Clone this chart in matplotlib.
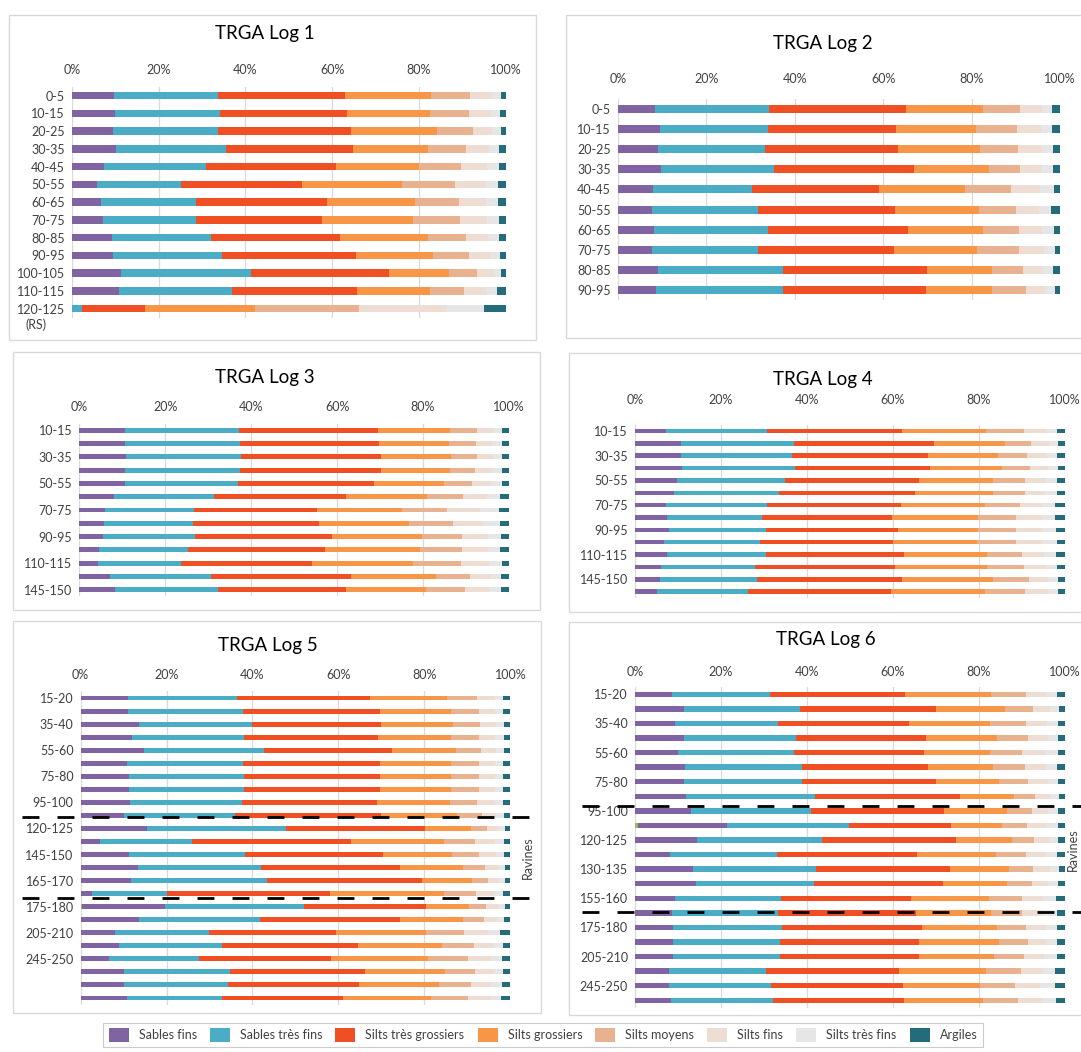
import numpy as np
import matplotlib
matplotlib.use('Agg')
import matplotlib.pyplot as plt
import matplotlib.transforms as transforms
from matplotlib.patches import Patch, Rectangle

plt.rcParams['font.family'] = ['Lato', 'DejaVu Sans']

W, H = 1081, 1052

classes = ['Sables fins', 'Sables très fins', 'Silts très grossiers', 'Silts grossiers',
           'Silts moyens', 'Silts fins', 'Silts très fins', 'Argiles']
colors = ['#8064A2', '#4BACC6', '#F04E23', '#F79646',
          '#E8B190', '#EEDDD3', '#E6E6E6', '#246B7B']
green = '#9BBB59'   # small extra class (not in legend)

# ---- TRGA Log 1
log1_labels = ['0-5', '10-15', '20-25', '30-35', '40-45', '50-55', '60-65', '70-75',
               '80-85', '90-95', '100-105', '110-115', '120-125']
log1 = [
    [9.8, 23.9, 29.3, 19.7, 9.1, 5.1, 2.0, 1.1],
    [10.0, 24.2, 29.2, 19.2, 9.0, 5.0, 2.2, 1.2],
    [9.5, 24.2, 30.7, 19.8, 8.3, 4.4, 2.0, 1.1],
    [10.1, 25.4, 29.3, 17.2, 8.8, 5.3, 2.4, 1.5],
    [7.5, 23.5, 29.9, 19.2, 9.5, 6.1, 2.8, 1.5],
    [5.9, 19.3, 27.9, 23.0, 12.2, 7.1, 2.8, 1.8],
    [6.7, 21.9, 30.2, 20.3, 10.1, 6.2, 2.9, 1.7],
    [7.1, 21.6, 29.0, 21.0, 10.8, 6.2, 2.7, 1.6],
    [9.2, 22.9, 29.7, 20.3, 8.8, 5.1, 2.4, 1.6],
    [9.5, 25.1, 30.8, 17.8, 8.4, 5.0, 2.2, 1.2],
    [11.4, 30.0, 31.7, 13.8, 6.5, 3.8, 1.7, 1.1],
    [10.8, 26.1, 28.9, 16.7, 7.9, 5.1, 2.6, 1.9],
    [0.0, 2.3, 14.6, 25.3, 24.0, 20.1, 8.6, 5.1],
]

# ---- TRGA Log 2
log2_labels = ['0-5', '10-15', '20-25', '30-35', '40-45', '50-55', '60-65', '70-75',
               '80-85', '90-95']
log2 = [
    [8.4, 25.7, 31.1, 17.4, 8.3, 5.0, 2.4, 1.7],
    [9.6, 24.3, 29.1, 18.1, 9.1, 5.5, 2.4, 1.9],
    [9.1, 24.1, 30.1, 18.5, 8.7, 5.4, 2.5, 1.6],
    [9.8, 25.6, 31.7, 16.8, 7.1, 4.7, 2.7, 1.6],
    [8.0, 22.4, 28.7, 19.4, 10.4, 6.6, 3.1, 1.4],
    [7.8, 23.9, 30.9, 19.0, 8.5, 5.2, 2.7, 2.0],
    [8.3, 25.6, 31.7, 17.0, 8.2, 5.1, 2.7, 1.4],
    [7.8, 24.0, 30.7, 18.8, 9.4, 5.6, 2.5, 1.2],
    [9.1, 28.2, 32.6, 14.7, 7.0, 4.6, 2.2, 1.6],
    [8.7, 28.6, 32.4, 15.0, 7.5, 4.5, 2.1, 1.2],
]

# ---- TRGA Log 3
log3_labels = ['10-15', '', '30-35', '', '50-55', '', '70-75', '', '90-95', '',
               '110-115', '', '145-150']
log3 = [
    [10.6, 26.5, 32.3, 16.8, 6.3, 3.7, 2.2, 1.6],
    [10.6, 26.8, 32.3, 16.4, 6.2, 3.8, 2.3, 1.6],
    [10.8, 26.9, 32.5, 16.2, 6.1, 3.7, 2.2, 1.6],
    [10.6, 26.9, 32.7, 16.1, 5.8, 4.0, 2.2, 1.7],
    [10.6, 26.3, 31.7, 16.2, 6.6, 4.4, 2.5, 1.7],
    [8.1, 23.2, 30.7, 19.0, 8.3, 5.6, 3.1, 2.0],
    [6.0, 20.7, 28.7, 19.6, 10.6, 7.7, 4.4, 2.3],
    [5.7, 20.7, 29.4, 20.9, 10.3, 7.0, 3.8, 2.2],
    [5.4, 21.5, 31.8, 21.1, 9.3, 6.0, 3.0, 1.9],
    [4.7, 20.6, 31.9, 22.2, 9.7, 6.0, 2.8, 2.1],
    [4.4, 19.3, 30.5, 23.5, 11.1, 6.5, 3.1, 1.6],
    [7.2, 23.4, 32.6, 19.8, 7.9, 4.8, 2.4, 1.9],
    [8.4, 23.9, 29.8, 18.7, 9.0, 5.6, 2.8, 1.8],
]

# ---- TRGA Log 4
log4_labels = ['10-15', '', '30-35', '', '50-55', '', '70-75', '', '90-95', '',
               '110-115', '', '145-150', '']
log4 = [
    [7.1, 23.6, 31.4, 19.7, 8.7, 5.1, 2.5, 1.9],
    [10.7, 26.3, 32.5, 16.6, 6.1, 4.1, 2.1, 1.6],
    [10.7, 25.9, 31.6, 16.3, 6.7, 4.7, 2.4, 1.7],
    [11.0, 26.2, 31.5, 16.6, 6.6, 4.2, 2.3, 1.6],
    [9.7, 25.1, 31.4, 17.2, 7.4, 4.8, 2.5, 1.9],
    [9.1, 24.3, 31.8, 18.0, 7.6, 4.7, 2.6, 1.9],
    [7.1, 23.6, 31.3, 19.4, 8.2, 5.2, 3.0, 2.2],
    [7.4, 22.2, 30.2, 20.0, 8.9, 6.0, 3.0, 2.3],
    [7.8, 22.8, 30.6, 18.7, 8.8, 6.0, 3.2, 2.1],
    [6.7, 22.5, 30.9, 19.5, 9.1, 6.0, 3.4, 1.9],
    [7.4, 23.0, 32.1, 19.4, 8.1, 5.2, 2.8, 2.0],
    [6.1, 21.8, 32.6, 21.4, 8.6, 5.2, 2.4, 1.9],
    [5.8, 22.6, 33.7, 21.2, 8.3, 4.6, 2.2, 1.6],
    [5.1, 21.1, 33.4, 21.9, 9.3, 5.3, 2.4, 1.5],
]

# ---- TRGA Log 5
log5_labels = ['15-20', '', '35-40', '', '55-60', '', '75-80', '', '95-100', '',
               '120-125', '', '145-150', '', '165-170', '', '175-180', '', '205-210', '',
               '245-250', '', '', '']
log5 = [
    [11.1, 25.4, 30.8, 18.0, 6.9, 4.2, 2.0, 1.6],
    [11.1, 26.6, 31.9, 16.6, 6.6, 3.6, 2.0, 1.6],
    [13.6, 26.3, 30.0, 16.7, 6.3, 3.7, 2.0, 1.4],
    [11.9, 26.2, 31.2, 16.9, 6.6, 3.7, 2.1, 1.4],
    [14.7, 28.0, 29.7, 14.9, 5.8, 3.5, 2.0, 1.4],
    [10.8, 27.0, 31.8, 16.7, 6.5, 3.7, 1.9, 1.6],
    [11.3, 26.7, 31.6, 16.7, 6.5, 3.7, 1.9, 1.6],
    [11.3, 26.7, 31.6, 16.7, 6.5, 3.6, 2.0, 1.6],
    [11.5, 26.0, 31.5, 17.0, 6.2, 4.0, 2.2, 1.6],
    [10.1, 25.9, 33.8, 17.8, 5.8, 3.3, 1.9, 1.4],
    [15.5, 32.2, 32.4, 10.8, 3.7, 2.8, 1.4, 1.2],
    [4.6, 21.3, 37.0, 21.7, 7.3, 4.5, 2.1, 1.5],
    [11.3, 26.9, 32.1, 16.2, 6.2, 3.9, 1.9, 1.5],
    [13.4, 28.5, 32.4, 14.6, 5.1, 3.1, 1.6, 1.3],
    [11.7, 31.6, 36.1, 11.8, 3.7, 2.5, 1.3, 1.3],
    [2.6, 17.4, 38.0, 26.5, 7.6, 4.1, 2.2, 1.6],
    [19.3, 32.3, 28.4, 10.0, 3.9, 3.0, 1.4, 1.3],
    [13.5, 28.3, 32.6, 14.5, 4.9, 3.2, 1.6, 1.4],
    [7.9, 22.0, 29.6, 20.9, 8.9, 5.6, 2.8, 2.3],
    [9.0, 23.9, 31.6, 19.6, 7.4, 4.4, 2.3, 1.8],
    [6.7, 20.9, 30.7, 22.5, 9.3, 5.3, 2.7, 1.9],
    [10.0, 24.7, 31.6, 18.5, 7.1, 4.2, 2.2, 1.7],
    [10.2, 24.0, 30.5, 18.7, 7.5, 4.7, 2.4, 2.0],
    [10.7, 22.2, 28.2, 20.4, 8.7, 5.2, 2.4, 2.2],
]
log5_extra = [0] * 16 + [0.4] + [0] * 7

# ---- TRGA Log 6
log6_labels = ['15-20', '', '35-40', '', '55-60', '', '75-80', '', '95-100', '',
               '120-125', '', '130-135', '', '155-160', '', '175-180', '', '205-210', '',
               '245-250', '']
log6 = [
    [8.6, 22.9, 31.4, 19.9, 8.1, 4.9, 2.4, 1.8],
    [11.3, 27.1, 31.7, 15.9, 6.6, 3.9, 2.1, 1.4],
    [9.3, 23.9, 30.6, 18.9, 8.2, 5.0, 2.5, 1.6],
    [11.4, 26.1, 30.2, 16.6, 7.2, 4.5, 2.4, 1.6],
    [10.1, 26.8, 30.3, 15.4, 7.5, 5.3, 3.0, 1.6],
    [11.6, 27.2, 29.5, 14.9, 7.5, 5.0, 2.5, 1.8],
    [11.4, 27.5, 31.2, 14.7, 6.7, 4.5, 2.4, 1.6],
    [11.9, 30.0, 33.7, 12.6, 4.9, 3.5, 2.1, 1.3],
    [13.0, 28.0, 30.9, 14.7, 5.7, 3.9, 2.2, 1.6],
    [20.6, 28.3, 23.9, 11.9, 5.8, 4.5, 2.6, 1.6],
    [14.4, 29.1, 31.1, 13.1, 5.2, 3.5, 2.1, 1.5],
    [8.2, 24.8, 32.6, 18.3, 7.0, 4.5, 2.7, 1.9],
    [13.4, 28.7, 31.2, 13.7, 5.6, 3.9, 2.2, 1.3],
    [14.1, 27.6, 30.0, 14.9, 5.8, 3.8, 2.2, 1.6],
    [9.4, 24.5, 30.3, 18.2, 7.7, 4.9, 2.9, 2.1],
    [8.5, 24.8, 32.0, 17.6, 7.2, 4.8, 3.2, 1.9],
    [8.9, 25.3, 32.6, 17.5, 6.8, 4.6, 2.6, 1.7],
    [8.8, 24.9, 32.5, 18.4, 6.9, 4.2, 2.4, 1.9],
    [8.8, 24.9, 32.5, 17.4, 6.9, 4.7, 2.9, 1.9],
    [7.9, 22.7, 30.8, 20.3, 8.2, 5.0, 2.9, 2.2],
    [7.8, 23.9, 30.7, 18.0, 8.1, 5.8, 3.5, 2.2],
    [8.4, 23.7, 30.4, 18.6, 8.1, 5.5, 3.2, 2.1],
]
log6_extra = [0] * 9 + [0.8] + [0] * 12

fig = plt.figure(figsize=(W / 100, H / 100), dpi=100)

# panel frames (pixel boxes)
frames = [(9, 15, 536, 340), (566, 15, 1090, 338), (13, 352, 540, 610),
          (569, 353, 1090, 612), (13, 621, 541, 1013), (569, 622, 1090, 1015)]
for (l, t, r, b) in frames:
    fig.add_artist(Rectangle((l / W, 1 - b / H), (r - l) / W, (b - t) / H,
                             transform=fig.transFigure, facecolor='white',
                             edgecolor='#D9D9D9', lw=1.0, zorder=0))

txt_col = '#404040'
fs = 9


def panel(title, labels, rows, extra, x0, x1, first, last, tpos, tick_pad, bar_h):
    n = len(rows)
    sp = (last - first) / (n - 1)
    top = first - sp / 2
    bot = last + sp / 2
    ax = fig.add_axes([x0 / W, 1 - bot / H, (x1 - x0) / W, (bot - top) / H])
    ax.set_facecolor('none')
    data = np.array(rows, dtype=float)
    y = np.arange(n)
    left = np.zeros(n)
    if extra is not None:
        ex = np.array(extra, dtype=float)
        ax.barh(y, ex, left=left, height=bar_h, color=green, zorder=3)
        left = left + ex
    for k in range(len(classes)):
        ax.barh(y, data[:, k], left=left, height=bar_h, color=colors[k], zorder=3)
        left = left + data[:, k]
    ax.set_xlim(0, 100)
    ax.set_ylim(n - 0.5, -0.5)
    ax.set_xticks(range(0, 101, 20))
    ax.set_xticklabels([f'{v}%' for v in range(0, 101, 20)])
    ax.xaxis.tick_top()
    ax.set_yticks(y)
    ax.set_yticklabels(labels)
    ax.tick_params(axis='x', length=0, pad=tick_pad, labelsize=fs, labelcolor=txt_col)
    ax.tick_params(axis='y', length=0, pad=5, labelsize=fs, labelcolor=txt_col)
    for s in ax.spines.values():
        s.set_visible(False)
    ax.grid(axis='x', color='#D9D9D9', lw=0.9, zorder=0)
    ax.set_axisbelow(True)
    fig.text(tpos[0] / W, 1 - tpos[1] / H, title, ha='center', va='center',
             fontsize=13.5, color='black')
    return ax


ax1 = panel('TRGA Log 1', log1_labels, log1, None, 71.7, 505.7, 95.7, 308.7, (265, 34), 8.0, 0.42)
ax2 = panel('TRGA Log 2', log2_labels, log2, None, 617.7, 1060, 109, 290, (823, 44), 10.2, 0.40)
ax3 = panel('TRGA Log 3', log3_labels, log3, None, 79.3, 509, 430.3, 589.7, (265, 378), 7.4, 0.36)
ax4 = panel('TRGA Log 4', log4_labels, log4, None, 635, 1064.7, 431, 591.7, (823, 380), 13.5, 0.36)
ax5 = panel('TRGA Log 5', log5_labels, log5, log5_extra, 80.6, 510.3, 698, 998, (268, 645), 7.3, 0.38)
ax6 = panel('TRGA Log 6', log6_labels, log6, log6_extra, 635, 1064.7, 694.3, 1000.3, (826, 640), 6.4, 0.37)

fig.text(25 / W, 1 - 325 / H, '(RS)', ha='left', va='center', fontsize=fs, color=txt_col)

# "Ravines" boundaries
dash = (0, (6.1, 6.5))
for ax, ys, xa, xb in [(ax5, [9.15, 15.3], 22, 540), (ax6, [7.65, 14.92], 582, 1081)]:
    tr = transforms.blended_transform_factory(fig.transFigure, ax.transData)
    for yy in ys:
        ax.plot([xa / W, xb / W], [yy, yy], transform=tr, clip_on=False,
                color='black', lw=2.0, linestyle=dash, zorder=6)

fig.text(528 / W, 1 - 858 / H, 'Ravines', rotation=90, ha='center', va='center',
         fontsize=fs, color=txt_col)
fig.text(1073 / W, 1 - 850 / H, 'Ravines', rotation=90, ha='center', va='center',
         fontsize=fs, color=txt_col)

handles = [Patch(facecolor=c, edgecolor='none') for c in colors]
leg = fig.legend(handles, classes, loc='center', bbox_to_anchor=(543 / W, 1 - 1035 / H),
                 ncol=8, frameon=True, fancybox=False, fontsize=9,
                 handlelength=1.6, handleheight=1.3, handletextpad=0.8,
                 columnspacing=1.05, borderpad=0.45, labelcolor=txt_col)
leg.get_frame().set_edgecolor('#BFBFBF')
leg.get_frame().set_linewidth(0.8)

fig.savefig('out.png', dpi=100, facecolor='white')
